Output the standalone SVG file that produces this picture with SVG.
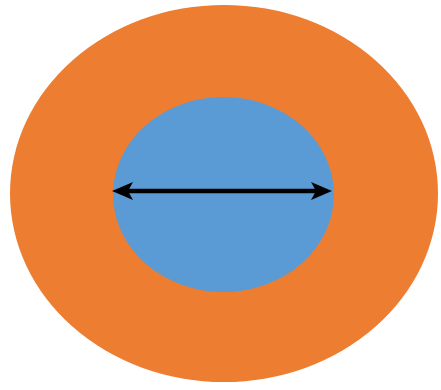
<svg xmlns="http://www.w3.org/2000/svg" width="441" height="390" viewBox="0 0 441 390">
<rect width="441" height="390" fill="#fff"/>
<g id="outer"><ellipse cx="224" cy="193.5" rx="214" ry="188.5" fill="#ED7D31"/></g>
<g id="inner"><ellipse cx="223.5" cy="194.5" rx="110.5" ry="97.5" fill="#5B9BD5"/></g>
<g id="connectors">
<line x1="126" y1="191" x2="318" y2="191" stroke="#000" stroke-width="4.5"/>
<path d="M112,191 L133,182 L128,191 L133,200 Z" fill="#000"/>
<path d="M332,191 L311,182 L316,191 L311,200 Z" fill="#000"/>
</g>
</svg>
